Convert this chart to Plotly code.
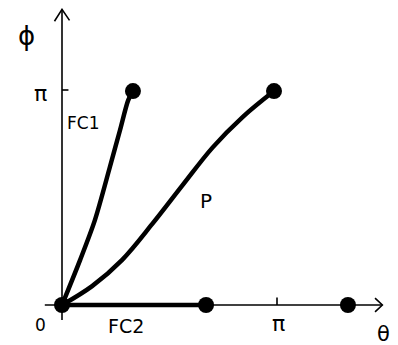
import plotly.graph_objects as go

# Data (angles in units of pi)
P_theta = [0, 0.14, 0.28, 0.42, 0.56, 0.70, 0.84, 0.986]
P_phi = [0, 0.088, 0.210, 0.377, 0.556, 0.732, 0.874, 0.995]

FC1_theta = [0, 0.084, 0.153, 0.223, 0.270, 0.308, 0.33]
FC1_phi = [0, 0.209, 0.395, 0.643, 0.814, 0.953, 0.995]

FC2_theta = [0, 0.67]
FC2_phi = [0, 0]

dots_theta = [0, 0.33, 0.986, 0.67, 1.33]
dots_phi = [0, 0.995, 0.995, 0, 0]

tick_vals = [1]
tick_text = ["π"]

labels = ["ϕ", "θ", "0", "FC1", "FC2", "P"]

FONT = "DejaVu Sans"
K = 215.0  # px per pi (used only for layout ranges)
OFF = 8    # page body margin

fig = go.Figure()
line_style = dict(color="black", width=4.5)
fig.add_trace(go.Scatter(x=FC1_theta, y=FC1_phi, mode="lines",
                         line=dict(**line_style, shape="spline", smoothing=0.8), hoverinfo="skip"))
fig.add_trace(go.Scatter(x=P_theta, y=P_phi, mode="lines",
                         line=dict(**line_style, shape="spline", smoothing=1.0), hoverinfo="skip"))
fig.add_trace(go.Scatter(x=FC2_theta, y=FC2_phi, mode="lines", line=dict(color="black", width=4.5),
                         hoverinfo="skip"))
fig.add_trace(go.Scatter(x=dots_theta, y=dots_phi, mode="markers",
                         marker=dict(color="black", size=16, line=dict(width=0)), hoverinfo="skip"))

shapes = []
ax = dict(type="line", xref="x", yref="y", line=dict(color="black", width=1.6))
# axes
shapes.append(dict(ax, x0=-0.08, y0=0, x1=1.49, y1=0))
shapes.append(dict(ax, x0=0, y0=-0.07, x1=0, y1=1.375))
# arrowheads
shapes.append(dict(type="path", xref="x", yref="y", path="M 1.456,0.032 L 1.49,0 L 1.456,-0.032",
                   line=dict(color="black", width=1.6)))
shapes.append(dict(type="path", xref="x", yref="y", path="M -0.035,1.32 L 0,1.375 L 0.035,1.324",
                   line=dict(color="black", width=1.6)))
# ticks at pi
for v in tick_vals:
    shapes.append(dict(ax, x0=v, y0=0, x1=v, y1=0.035))
    shapes.append(dict(ax, x0=0, y0=v, x1=0.03, y1=v))
fig.update_layout(shapes=shapes)

ann = []
def txt(t, x, y, size):
    ann.append(dict(text=t, x=x, y=y, xref="x", yref="y", showarrow=False,
                    font=dict(family=FONT, size=size, color="black"), xanchor="center", yanchor="middle"))

txt(labels[0], -0.167, 1.25, 26)
txt(labels[1], 1.497, -0.136, 21)
txt(labels[2], -0.102, -0.093, 17)
txt(labels[3], 0.098, 0.846, 17)
txt(labels[4], 0.298, -0.098, 19)
txt(labels[5], 0.670, 0.484, 20)
for v, t in zip(tick_vals, tick_text):
    txt(t, v + 0.009, -0.088, 22)
    txt(t, -0.098, v - 0.014, 22)

fig.update_layout(
    annotations=ann,
    width=398 - OFF, height=345 - OFF,
    margin=dict(l=0, r=0, t=0, b=0),
    paper_bgcolor="white", plot_bgcolor="white",
    showlegend=False,
    xaxis=dict(range=[(OFF - 62) / K, 336 / K], visible=False, fixedrange=True),
    yaxis=dict(range=[-40 / K, (305 - OFF) / K], visible=False, fixedrange=True),
)

fig.write_html("out.html")
